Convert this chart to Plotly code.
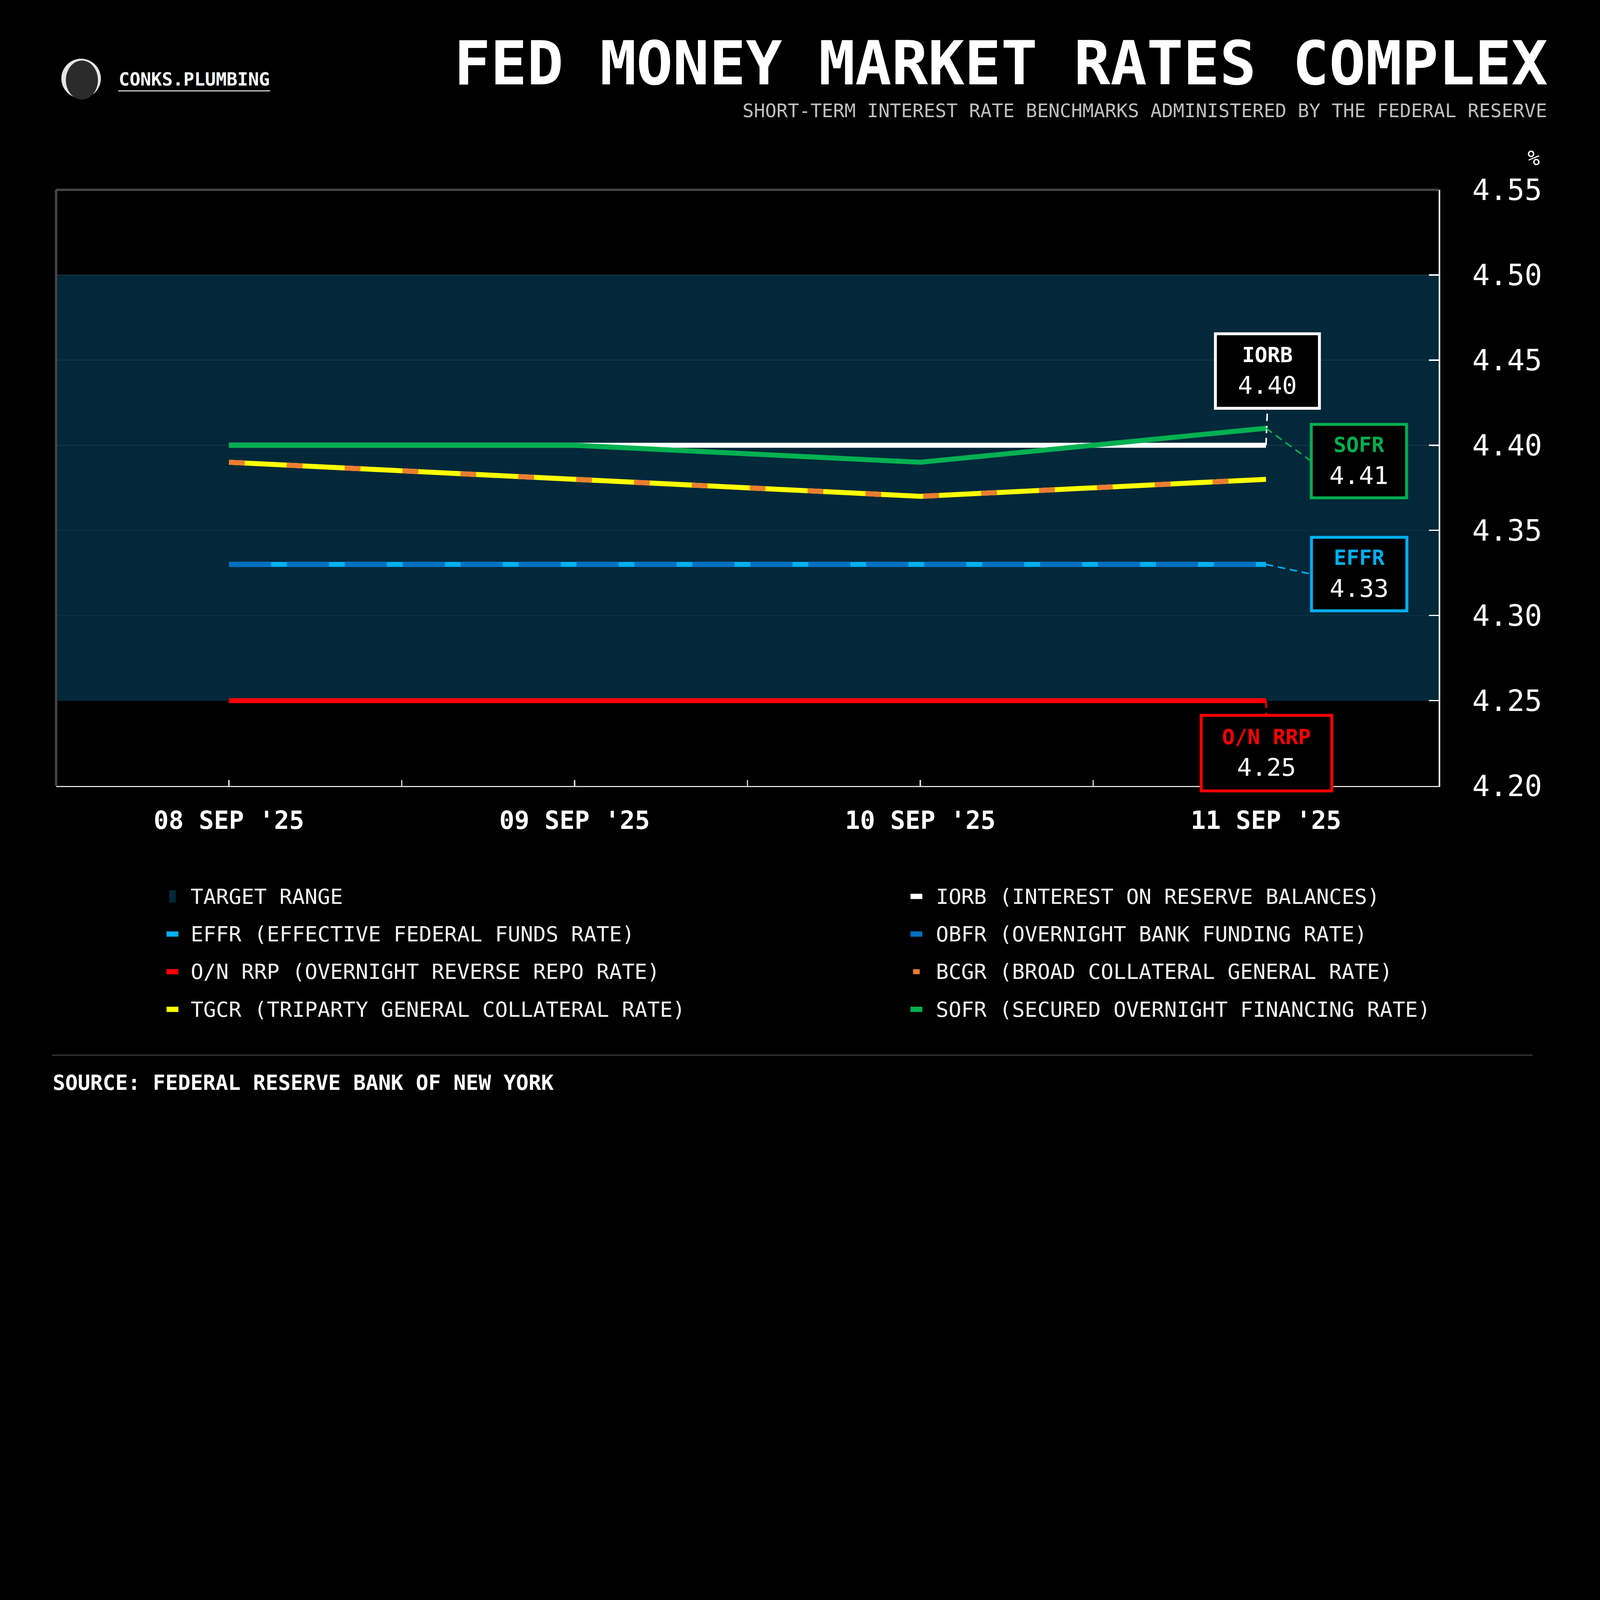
import plotly.graph_objects as go

# ---------------- data ----------------
dates = ["08 SEP '25", "09 SEP '25", "10 SEP '25", "11 SEP '25"]
iorb = [4.40, 4.40, 4.40, 4.40]
sofr = [4.40, 4.40, 4.39, 4.41]
tgcr = [4.39, 4.38, 4.37, 4.38]
bcgr = [4.39, 4.38, 4.37, 4.38]
effr = [4.33, 4.33, 4.33, 4.33]
obfr = [4.33, 4.33, 4.33, 4.33]
onrrp = [4.25, 4.25, 4.25, 4.25]
target_range = [4.25, 4.50]
y_ticks = [4.20, 4.25, 4.30, 4.35, 4.40, 4.45, 4.50, 4.55]

legend_labels = [
    "TARGET RANGE", "IORB (INTEREST ON RESERVE BALANCES)",
    "EFFR (EFFECTIVE FEDERAL FUNDS RATE)", "OBFR (OVERNIGHT BANK FUNDING RATE)",
    "O/N RRP (OVERNIGHT REVERSE REPO RATE)", "BCGR (BROAD COLLATERAL GENERAL RATE)",
    "TGCR (TRIPARTY GENERAL COLLATERAL RATE)", "SOFR (SECURED OVERNIGHT FINANCING RATE)",
]

# ---------------- styling / layout constants ----------------
W, H = 6076, 4292
L, R, T, B = 213, 612, 721, 1308
PW, PH = W - L - R, H - T - B
F = "DejaVu Sans Mono, monospace"
BG = "#000000"
BAND = "#02283a"
C_IORB, C_SOFR, C_TGCR, C_BCGR = "#ffffff", "#00b050", "#ffff00", "#ed7d31"
C_EFFR, C_OBFR, C_RRP = "#00b0f0", "#0070c0", "#ff0000"
LW = 19

x = list(range(len(dates)))
XR = [-0.5, len(dates) - 0.5]
YR = [y_ticks[0], y_ticks[-1]]


def px_x(px):
    return (px - L) / PW


def px_y(py):
    return (H - B - py) / PH


def dx(px):
    return XR[0] + (px - L) / PW * (XR[1] - XR[0])


def dy(py):
    return YR[1] - (py - T) / PH * (YR[1] - YR[0])


fig = go.Figure()

series = [
    ("O/N RRP", onrrp, C_RRP, "solid"),
    ("EFFR", effr, C_EFFR, "solid"),
    ("OBFR", obfr, C_OBFR, "160px,60px"),
    ("IORB", iorb, C_IORB, "solid"),
    ("TGCR", tgcr, C_TGCR, "solid"),
    ("BCGR", bcgr, C_BCGR, "60px,160px"),
    ("SOFR", sofr, C_SOFR, "solid"),
]
for name, vals, col, dash in series:
    fig.add_trace(go.Scatter(
        x=x, y=vals, mode="lines", name=name, showlegend=False,
        line=dict(color=col, width=LW, dash=dash), hoverinfo="skip"))

shapes = []
annotations = []

# target range band
shapes.append(dict(type="rect", xref="paper", yref="y", x0=0, x1=1,
                   y0=target_range[0], y1=target_range[1],
                   fillcolor=BAND, line=dict(width=0), layer="below"))
# frame: top and left
shapes.append(dict(type="line", xref="paper", yref="paper", x0=0, x1=1, y0=1, y1=1,
                   line=dict(color="#444444", width=9)))
shapes.append(dict(type="line", xref="paper", yref="paper", x0=0, x1=0, y0=0, y1=1,
                   line=dict(color="#444444", width=9)))

# callout boxes: (label, series, colour, centre px, outer size px, connector side)
callouts = [
    ("IORB", iorb, C_IORB, (4813, 1409), (395, 283), "bottom"),
    ("SOFR", sofr, C_SOFR, (5160, 1751), (362, 279), "left"),
    ("EFFR", effr, C_EFFR, (5161, 2180), (362, 279), "left"),
    ("O/N RRP", onrrp, C_RRP, (4809, 2860), (496, 287), "top"),
]
BW = 11
for lab, vals, col, (cx, cy), (ow, oh), side in callouts:
    if side == "bottom":
        ex, ey = cx, cy + oh / 2
    elif side == "top":
        ex, ey = cx, cy - oh / 2
    else:
        ex, ey = cx - ow / 2, cy
    shapes.append(dict(type="line", xref="x", yref="y",
                       x0=x[-1], y0=vals[-1], x1=dx(ex), y1=dy(ey),
                       line=dict(color=col, width=6, dash="28px,18px")))
    annotations.append(dict(
        xref="x", yref="y", x=dx(cx), y=dy(cy), showarrow=False,
        text=f"<b><span style='color:{col};font-size:80px'>{lab}</span></b><br>"
             f"{vals[-1]:.2f}",
        font=dict(family=F, size=93, color="#ffffff"),
        bgcolor="#000000", bordercolor=col, borderwidth=BW, borderpad=0,
        width=ow - BW, height=oh - BW, align="center", valign="middle"))

# legend (manual, two columns)
legend_colors = [BAND, C_IORB, C_EFFR, C_OBFR, C_RRP, C_BCGR, C_TGCR, C_SOFR]
sym_size = [(25, 47), (45, 20), (45, 20), (45, 20), (45, 20), (25, 19), (45, 20), (45, 20)]
col_sym_x = [655, 3480]
col_txt_x = [722, 3552]
row_y = [3404, 3547, 3690, 3833]
for i, (lab, col) in enumerate(zip(legend_labels, legend_colors)):
    c, r = i % 2, i // 2
    sw, sh = sym_size[i]
    shapes.append(dict(type="rect", xref="paper", yref="paper",
                       x0=px_x(col_sym_x[c] - sw / 2), x1=px_x(col_sym_x[c] + sw / 2),
                       y0=px_y(row_y[r] + sh / 2), y1=px_y(row_y[r] - sh / 2),
                       fillcolor=col, line=dict(width=0)))
    annotations.append(dict(xref="paper", yref="paper", x=px_x(col_txt_x[c]), y=px_y(row_y[r]),
                            xanchor="left", yanchor="middle", showarrow=False, text=lab,
                            font=dict(family=F, size=80, color="#f2f2f2")))

# header
annotations.append(dict(xref="paper", yref="paper", x=px_x(5880), y=px_y(240),
                        xanchor="right", yanchor="middle", showarrow=False,
                        text="<b>FED MONEY MARKET RATES COMPLEX</b>",
                        font=dict(family=F, size=230, color="#ffffff")))
annotations.append(dict(xref="paper", yref="paper", x=px_x(5877), y=px_y(420),
                        xanchor="right", yanchor="middle", showarrow=False,
                        text="SHORT-TERM INTEREST RATE BENCHMARKS ADMINISTERED BY THE FEDERAL RESERVE",
                        font=dict(family=F, size=71.5, color="#bfbfbf")))
annotations.append(dict(xref="paper", yref="paper", x=px_x(449), y=px_y(302),
                        xanchor="left", yanchor="middle", showarrow=False,
                        text="<b>CONKS.PLUMBING</b>",
                        font=dict(family=F, size=68, color="#ffffff")))
shapes.append(dict(type="line", xref="paper", yref="paper",
                   x0=px_x(449), x1=px_x(1026), y0=px_y(345), y1=px_y(345),
                   line=dict(color="#d9d9d9", width=4)))
# logo
shapes.append(dict(type="circle", xref="paper", yref="paper",
                   x0=px_x(233), x1=px_x(383), y0=px_y(373), y1=px_y(223),
                   fillcolor="#e4e4e4", line=dict(width=0)))
shapes.append(dict(type="circle", xref="paper", yref="paper",
                   x0=px_x(250), x1=px_x(372), y0=px_y(378), y1=px_y(230),
                   fillcolor="#2b2b2b", line=dict(width=0)))
annotations.append(dict(xref="paper", yref="paper", x=px_x(5824), y=px_y(600),
                        xanchor="center", yanchor="middle", showarrow=False, text="%",
                        font=dict(family=F, size=78, color="#ffffff")))
# footer
shapes.append(dict(type="line", xref="paper", yref="paper",
                   x0=px_x(198), x1=px_x(5820), y0=px_y(4007), y1=px_y(4007),
                   line=dict(color="#333333", width=5)))
annotations.append(dict(xref="paper", yref="paper", x=px_x(198), y=px_y(4111),
                        xanchor="left", yanchor="middle", showarrow=False,
                        text="<b>SOURCE: FEDERAL RESERVE BANK OF NEW YORK</b>",
                        font=dict(family=F, size=79, color="#ffffff")))

# x ticks at every half step, labels on the dates
xticks, xtext = [], []
for i, d in enumerate(dates):
    xticks.append(i)
    xtext.append(d)
    if i < len(dates) - 1:
        xticks.append(i + 0.5)
        xtext.append("")

fig.update_layout(
    width=W, height=H, paper_bgcolor=BG, plot_bgcolor=BG,
    margin=dict(l=L, r=R, t=T, b=B, autoexpand=False),
    showlegend=False, shapes=shapes, annotations=annotations,
    font=dict(family=F, color="#ffffff"),
    xaxis=dict(range=XR, tickvals=xticks, ticktext=xtext, showgrid=False, zeroline=False,
               showline=True, linecolor="#d9d9d9", linewidth=5,
               ticks="inside", ticklen=22, tickwidth=5, tickcolor="#d9d9d9",
               ticklabelstandoff=45,
               tickfont=dict(family=F, size=95, color="#ffffff", weight="bold")),
    yaxis=dict(range=YR, side="right", tickvals=y_ticks, ticktext=[f"{v:.2f}" for v in y_ticks],
               showgrid=True, gridcolor="#173a4a", gridwidth=2, zeroline=False,
               showline=True, linecolor="#ffffff", linewidth=5,
               ticks="inside", ticklen=37, tickwidth=5, tickcolor="#ffffff",
               ticklabelstandoff=100,
               tickfont=dict(family=F, size=110, color="#ffffff")),
)

# fit the fixed-size figure to the browser viewport (scale 1 when the viewport is 6076 px wide)
fit_js = (
    "document.documentElement.style.margin='0';document.body.style.margin='0';"
    "document.documentElement.style.overflow='hidden';document.body.style.overflow='hidden';"
    "document.documentElement.style.background='#000';document.body.style.background='#000';"
    "var gd=document.getElementById('{plot_id}');"
    f"var s=Math.min(window.innerWidth/{W}, window.innerHeight/{H});"
    "if(s<1){gd.style.transformOrigin='0 0';gd.style.transform='scale('+s+')';}"
)

fig.write_html("out.html", post_script=fit_js, config={"displayModeBar": False})
